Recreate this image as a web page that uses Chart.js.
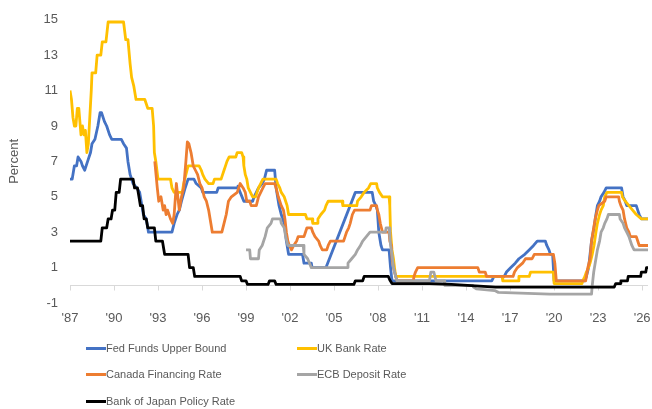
<!DOCTYPE html>
<html><head><meta charset="utf-8">
<script src="https://cdn.jsdelivr.net/npm/chart.js@4.4.1/dist/chart.umd.min.js"></script>
<style>
html,body{margin:0;padding:0;background:#fff;}
#wrap{position:relative;width:652px;height:409px;overflow:hidden;}
#c{position:absolute;left:0;top:0;}
.lg{position:absolute;height:14px;font-family:"Liberation Sans",Arial,sans-serif;font-size:11px;color:#595959;white-space:nowrap;line-height:14px;}
.lg i{position:absolute;left:0;top:6px;width:20px;height:3px;}
.lg span{position:absolute;left:20px;top:0;}
</style></head>
<body><div id="wrap"><canvas id="c" width="652" height="409"></canvas></div>
<script>
// ---- data (decimal year, percent) ----
const fedFunds = [[1987.0,6.0],[1987.15,6.0],[1987.3,6.75],[1987.45,6.75],[1987.55,7.25],[1987.75,7.0],[1987.85,6.75],[1988.0,6.5],[1988.2,7.0],[1988.4,7.5],[1988.5,8.0],[1988.7,8.25],[1988.9,9.0],[1989.05,9.75],[1989.15,9.75],[1989.35,9.25],[1989.5,9.0],[1989.7,8.5],[1989.85,8.25],[1990.5,8.25],[1990.65,8.0],[1990.85,7.75],[1990.95,7.0],[1991.1,6.25],[1991.3,5.75],[1991.55,5.5],[1991.75,5.25],[1991.85,4.75],[1992.0,4.0],[1992.2,3.75],[1992.35,3.0],[1993.95,3.0],[1994.1,3.5],[1994.3,4.0],[1994.45,4.25],[1994.6,4.75],[1994.85,5.5],[1995.05,6.0],[1995.45,6.0],[1995.6,5.75],[1995.95,5.5],[1996.05,5.25],[1997.0,5.25],[1997.1,5.5],[1998.4,5.5],[1998.45,5.6],[1998.6,5.25],[1998.85,4.75],[1999.45,4.75],[1999.55,5.0],[1999.85,5.5],[2000.1,5.75],[2000.25,6.0],[2000.4,6.5],[2000.95,6.5],[2001.05,5.5],[2001.25,4.5],[2001.4,4.0],[2001.6,3.5],[2001.75,2.5],[2001.9,1.75],[2002.85,1.75],[2002.95,1.25],[2003.45,1.25],[2003.5,1.0],[2004.45,1.0],[2006.45,5.25],[2007.6,5.25],[2007.7,4.75],[2007.85,4.5],[2007.95,4.25],[2008.05,3.0],[2008.2,2.25],[2008.3,2.0],[2008.75,2.0],[2008.85,1.0],[2008.95,0.25],[2015.75,0.25],[2015.9,0.5],[2016.6,0.5],[2016.75,0.75],[2017.05,1.0],[2017.35,1.25],[2017.6,1.5],[2018.0,1.75],[2018.3,2.0],[2018.6,2.25],[2018.85,2.5],[2019.4,2.5],[2019.5,2.25],[2019.65,2.0],[2019.75,1.75],[2019.9,1.75],[2020.0,0.25],[2022.1,0.25],[2022.2,0.5],[2022.35,1.0],[2022.45,1.75],[2022.55,2.5],[2022.72,3.25],[2022.85,4.0],[2022.95,4.5],[2023.1,4.75],[2023.2,5.0],[2023.4,5.25],[2023.55,5.5],[2024.6,5.5],[2024.7,5.0],[2024.85,4.75],[2024.95,4.5],[2025.6,4.5],[2025.7,4.25],[2025.8,4.0],[2025.95,3.75],[2026.4,3.75]];

const ukBankRate = [[1987.0,11.0],[1987.1,10.5],[1987.2,9.5],[1987.3,9.0],[1987.4,9.0],[1987.5,10.0],[1987.6,10.0],[1987.75,8.5],[1987.85,9.0],[1987.95,8.5],[1988.05,8.75],[1988.15,7.5],[1988.25,8.0],[1988.35,9.5],[1988.45,11.0],[1988.5,12.0],[1988.75,12.0],[1988.85,13.0],[1989.1,13.0],[1989.2,13.75],[1989.45,13.75],[1989.6,14.875],[1990.65,14.875],[1990.8,13.875],[1990.95,13.875],[1991.1,12.5],[1991.2,11.75],[1991.35,11.25],[1991.5,10.5],[1992.1,10.5],[1992.3,10.0],[1992.6,10.0],[1992.7,9.0],[1992.75,7.5],[1992.85,7.0],[1993.0,6.0],[1993.85,6.0],[1993.95,5.5],[1994.1,5.25],[1994.65,5.25],[1994.75,5.75],[1994.9,6.25],[1995.05,6.75],[1995.8,6.75],[1995.95,6.5],[1996.05,6.25],[1996.2,6.0],[1996.45,5.75],[1996.75,5.75],[1996.85,6.0],[1997.3,6.0],[1997.4,6.25],[1997.5,6.5],[1997.6,6.75],[1997.7,7.0],[1997.85,7.25],[1998.3,7.25],[1998.4,7.5],[1998.7,7.5],[1998.8,7.25],[1998.85,6.75],[1998.95,6.25],[1999.05,6.0],[1999.15,5.5],[1999.3,5.25],[1999.45,5.0],[1999.65,5.0],[1999.75,5.25],[1999.85,5.5],[2000.0,5.75],[2000.15,6.0],[2001.05,6.0],[2001.15,5.75],[2001.3,5.5],[2001.4,5.25],[2001.6,5.0],[2001.7,4.75],[2001.8,4.5],[2001.9,4.0],[2003.05,4.0],[2003.15,3.75],[2003.5,3.75],[2003.55,3.5],[2003.85,3.5],[2003.9,3.75],[2004.1,4.0],[2004.35,4.25],[2004.45,4.5],[2004.6,4.75],[2005.55,4.75],[2005.6,4.5],[2006.55,4.5],[2006.6,4.75],[2006.85,5.0],[2007.05,5.25],[2007.35,5.5],[2007.5,5.75],[2007.9,5.75],[2007.95,5.5],[2008.1,5.25],[2008.3,5.0],[2008.75,5.0],[2008.8,4.5],[2008.85,3.0],[2008.95,2.0],[2009.05,1.5],[2009.12,1.0],[2009.2,0.5],[2016.45,0.5],[2016.5,0.25],[2017.55,0.25],[2017.6,0.5],[2018.3,0.5],[2018.4,0.75],[2019.95,0.75],[2020.0,0.1],[2021.9,0.1],[2021.95,0.25],[2022.1,0.5],[2022.2,0.75],[2022.35,1.0],[2022.45,1.25],[2022.6,1.75],[2022.72,2.25],[2022.85,3.0],[2022.95,3.5],[2023.1,4.0],[2023.2,4.25],[2023.35,4.5],[2023.45,5.0],[2023.6,5.25],[2024.6,5.25],[2024.65,5.0],[2024.85,4.75],[2025.1,4.5],[2025.35,4.25],[2025.6,4.0],[2025.95,3.75],[2026.4,3.75]];

const canadaRate = [[1992.78,7.0],[1992.95,5.5],[1993.05,4.75],[1993.2,5.0],[1993.35,4.25],[1993.45,4.5],[1993.55,4.0],[1993.65,4.25],[1993.75,4.0],[1993.85,3.75],[1994.0,3.5],[1994.1,4.0],[1994.25,5.75],[1994.35,5.0],[1994.45,4.25],[1994.6,5.0],[1994.75,5.5],[1994.9,7.0],[1995.0,8.1],[1995.1,8.0],[1995.25,7.5],[1995.4,6.75],[1995.55,6.5],[1995.7,6.25],[1995.85,5.75],[1996.0,5.5],[1996.15,5.0],[1996.3,4.75],[1996.45,4.25],[1996.6,3.5],[1996.7,3.0],[1997.35,3.0],[1997.5,3.5],[1997.65,4.0],[1997.8,4.75],[1998.0,5.0],[1998.4,5.25],[1998.6,5.75],[1998.8,5.5],[1998.95,5.25],[1999.05,4.75],[1999.25,4.75],[1999.35,4.5],[1999.7,4.5],[1999.85,5.0],[2000.0,5.25],[2000.15,5.5],[2000.3,5.75],[2000.95,5.75],[2001.05,5.5],[2001.2,5.0],[2001.3,4.75],[2001.4,4.5],[2001.55,4.25],[2001.65,3.75],[2001.75,3.0],[2001.85,2.5],[2001.95,2.25],[2002.1,2.0],[2002.25,2.25],[2002.45,2.5],[2002.55,2.75],[2002.95,2.75],[2003.05,3.0],[2003.15,3.25],[2003.45,3.25],[2003.55,3.0],[2003.7,2.75],[2003.95,2.5],[2004.05,2.25],[2004.2,2.0],[2004.5,2.0],[2004.6,2.25],[2004.75,2.5],[2005.65,2.5],[2005.75,2.75],[2005.85,3.0],[2006.0,3.25],[2006.1,3.5],[2006.25,4.0],[2006.4,4.25],[2007.45,4.25],[2007.55,4.5],[2007.9,4.5],[2007.95,4.25],[2008.05,4.0],[2008.15,3.5],[2008.3,3.0],[2008.75,3.0],[2008.8,2.5],[2008.9,2.25],[2008.95,1.5],[2009.05,1.0],[2009.2,0.5],[2009.3,0.25],[2010.4,0.25],[2010.45,0.5],[2010.55,0.75],[2010.7,1.0],[2014.8,1.0],[2014.9,0.75],[2015.3,0.75],[2015.4,0.5],[2017.2,0.5],[2017.3,0.75],[2017.5,1.0],[2017.85,1.25],[2018.05,1.5],[2018.5,1.5],[2018.65,1.75],[2019.95,1.75],[2020.05,1.25],[2020.15,0.25],[2022.15,0.25],[2022.2,0.5],[2022.3,1.0],[2022.45,1.5],[2022.55,2.5],[2022.7,3.25],[2022.8,3.75],[2022.95,4.25],[2023.05,4.5],[2023.45,4.75],[2023.55,5.0],[2024.4,5.0],[2024.45,4.75],[2024.55,4.5],[2024.7,4.25],[2024.8,3.75],[2024.95,3.25],[2025.1,3.0],[2025.2,2.75],[2025.6,2.75],[2025.7,2.5],[2025.8,2.25],[2026.4,2.25]];

const ecbDeposit = [[1999.0,2.0],[1999.25,2.0],[1999.3,1.5],[1999.85,1.5],[1999.9,2.0],[2000.1,2.25],[2000.2,2.5],[2000.3,2.75],[2000.45,3.25],[2000.7,3.5],[2000.8,3.75],[2001.35,3.75],[2001.4,3.5],[2001.6,3.25],[2001.7,2.75],[2001.85,2.25],[2002.9,2.25],[2002.95,1.75],[2003.2,1.5],[2003.45,1.0],[2005.9,1.0],[2005.95,1.25],[2006.2,1.5],[2006.45,1.75],[2006.6,2.0],[2006.8,2.25],[2006.95,2.5],[2007.2,2.75],[2007.45,3.0],[2008.5,3.0],[2008.55,3.25],[2008.75,3.25],[2008.8,2.75],[2008.85,2.25],[2008.95,1.75],[2009.05,1.0],[2009.2,0.5],[2009.3,0.25],[2011.5,0.25],[2011.6,0.75],[2011.8,0.75],[2011.95,0.25],[2012.5,0.25],[2012.55,0.0],[2014.45,0.0],[2014.5,-0.1],[2014.7,-0.2],[2015.95,-0.3],[2016.2,-0.4],[2019.7,-0.5],[2022.55,-0.5],[2022.6,0.0],[2022.7,0.75],[2022.85,1.5],[2022.95,2.0],[2023.1,2.5],[2023.2,3.0],[2023.35,3.25],[2023.45,3.5],[2023.6,3.75],[2023.7,4.0],[2024.45,4.0],[2024.5,3.75],[2024.7,3.5],[2024.8,3.25],[2024.95,3.0],[2025.1,2.75],[2025.2,2.5],[2025.3,2.25],[2025.45,2.0],[2026.4,2.0]];

const bojRate = [[1987.0,2.5],[1989.1,2.5],[1989.2,3.25],[1989.5,3.25],[1989.6,3.75],[1989.8,3.75],[1989.9,4.25],[1990.05,4.25],[1990.15,5.25],[1990.35,5.25],[1990.45,6.0],[1991.3,6.0],[1991.4,5.5],[1991.6,5.5],[1991.7,5.0],[1991.8,4.5],[1991.95,4.5],[1992.05,3.75],[1992.2,3.75],[1992.3,3.25],[1992.75,3.25],[1992.85,2.5],[1993.3,2.5],[1993.45,1.75],[1995.05,1.75],[1995.15,1.0],[1995.4,1.0],[1995.5,0.5],[1998.6,0.5],[1998.7,0.25],[1999.0,0.25],[1999.1,0.05],[2000.5,0.05],[2000.6,0.25],[2000.95,0.25],[2001.05,0.05],[2006.35,0.05],[2006.45,0.25],[2006.95,0.25],[2007.05,0.5],[2008.7,0.5],[2008.8,0.3],[2008.95,0.1],[2011.5,0.1],[2013.0,0.05],[2016.0,-0.1],[2024.1,-0.1],[2024.2,0.1],[2024.5,0.1],[2024.55,0.25],[2025.0,0.25],[2025.05,0.5],[2025.9,0.5],[2025.95,0.75],[2026.25,0.75],[2026.3,1.0],[2026.4,1.0]];

const seriesNames = ["Fed Funds Upper Bound","UK Bank Rate","Canada Financing Rate","ECB Deposit Rate","Bank of Japan Policy Rate"];
const xTickYears = [1987,1990,1993,1996,1999,2002,2005,2008,2011,2014,2017,2020,2023,2026];
const xTickLabels = ["'87","'90","'93","'96","'99","'02","'05","'08","'11","'14","'17","'20","'23","'26"];
const yTicks = [-1,1,3,5,7,9,11,13,15];

// ---- styles ----
const colors = ["#4472C4","#FFC000","#ED7D31","#A5A5A5","#000000"];
const allSeries = [fedFunds, ukBankRate, canadaRate, ecbDeposit, bojRate];
const TXT = "#595959";
const FONT = '"Liberation Sans", Arial, sans-serif';

const datasets = allSeries.map((s, i) => ({
  label: seriesNames[i],
  data: s.map(p => ({x: p[0], y: p[1]})),
  borderColor: colors[i],
  backgroundColor: colors[i],
  borderWidth: 2.8,
  pointRadius: 0,
  tension: 0,
  fill: false,
  borderJoinStyle: 'round',
  borderCapStyle: 'butt',
  order: allSeries.length - i
}));

const zeroLine = {
  id: 'zeroLine',
  beforeDatasetsDraw(chart) {
    const {ctx, chartArea, scales: {x, y}} = chart;
    const y0 = Math.round(y.getPixelForValue(0)) + 0.5;
    ctx.save();
    ctx.strokeStyle = '#D9D9D9';
    ctx.lineWidth = 1;
    ctx.beginPath();
    ctx.moveTo(chartArea.left, y0);
    ctx.lineTo(chartArea.right, y0);
    xTickYears.forEach(v => {
      const px = Math.round(x.getPixelForValue(v)) + 0.5;
      ctx.moveTo(px, y0);
      ctx.lineTo(px, y0 + 5);
    });
    ctx.stroke();
    ctx.restore();
  }
};

new Chart(document.getElementById('c'), {
  type: 'line',
  data: {datasets},
  options: {
    responsive: false,
    animation: false,
    devicePixelRatio: 1,
    layout: {padding: {left: 0, right: 4, top: 16, bottom: 76}},
    plugins: {legend: {display: false}, tooltip: {enabled: false}},
    scales: {
      x: {
        type: 'linear',
        min: 1987, max: 2026.4,
        grid: {display: false, drawTicks: false},
        border: {display: false},
        afterBuildTicks: s => { s.ticks = xTickYears.map(v => ({value: v})); },
        afterFit: s => { s.height = 30; s.paddingRight = 0; s.paddingLeft = 0; },
        ticks: {
          padding: 8, color: TXT, font: {family: FONT, size: 13}, maxRotation: 0, autoSkip: false,
          callback: (v) => xTickLabels[xTickYears.indexOf(v)]
        }
      },
      y: {
        min: -1, max: 15,
        grid: {display: false, drawTicks: false},
        border: {display: false},
        afterBuildTicks: s => { s.ticks = yTicks.map(v => ({value: v})); },
        afterFit: s => { s.width = 70; },
        ticks: {padding: 12, color: TXT, font: {family: FONT, size: 13}},
        title: {display: true, text: 'Percent', color: TXT, font: {family: FONT, size: 13}, padding: {top: 7, bottom: 0}}
      }
    }
  },
  plugins: [zeroLine]
});

// ---- legend (HTML, two columns) ----
const wrap = document.getElementById('wrap');
const colX = [86, 297];
const rowY = [341, 367, 394];
seriesNames.forEach((name, i) => {
  const d = document.createElement('div');
  d.className = 'lg';
  d.style.left = colX[i % 2] + 'px';
  d.style.top = rowY[Math.floor(i / 2)] + 'px';
  const line = document.createElement('i');
  line.style.background = colors[i];
  const t = document.createElement('span');
  t.textContent = name;
  d.appendChild(line); d.appendChild(t);
  wrap.appendChild(d);
});
</script>
</body></html>
